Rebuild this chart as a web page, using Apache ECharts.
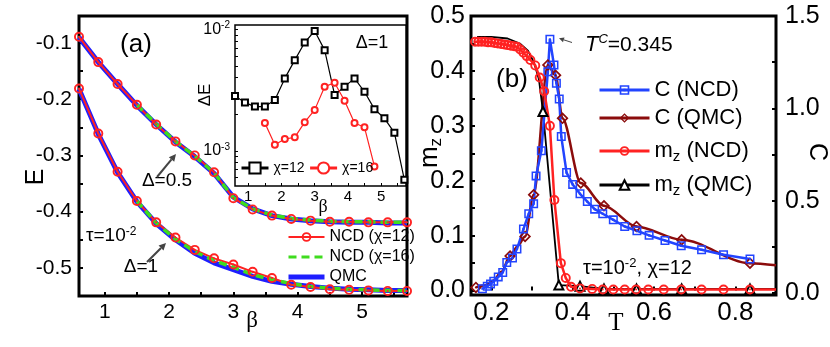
<!DOCTYPE html>
<html>
<head>
<meta charset="utf-8">
<script src="https://cdn.jsdelivr.net/npm/echarts@6/dist/echarts.min.js"></script>
<style>
html,body{margin:0;padding:0;background:#fff;}
#main{width:830px;height:347px;}
</style>
</head>
<body>
<div id="main"></div>
<script>
// ---- panel (a): E vs beta ----
var betaA = [0.6, 0.9, 1.2, 1.5, 1.8, 2.1, 2.4, 2.7, 3.0, 3.3, 3.6, 3.9, 4.2, 4.5, 4.8, 5.1, 5.4, 5.7];
var betaA16 = betaA.slice(3); // chi=16 curves start at beta=1.5
// delta = 0.5
var eHalfNcd12 = [-0.089, -0.134, -0.173, -0.210, -0.245, -0.275, -0.300, -0.330, -0.376, -0.396, -0.407, -0.413, -0.416, -0.418, -0.418, -0.419, -0.419, -0.419];
var eHalfNcd16 = [-0.210, -0.244, -0.275, -0.301, -0.331, -0.375, -0.395, -0.406, -0.412, -0.415, -0.417, -0.418, -0.418, -0.419, -0.419];
var eHalfQmc   = [-0.090, -0.134, -0.173, -0.211, -0.245, -0.276, -0.302, -0.332, -0.374, -0.395, -0.407, -0.413, -0.416, -0.418, -0.419, -0.419, -0.420, -0.420];
// delta = 1
var eOneNcd12 = [-0.181, -0.261, -0.329, -0.381, -0.419, -0.446, -0.468, -0.483, -0.494, -0.507, -0.518, -0.530, -0.534, -0.538, -0.539, -0.540, -0.541, -0.541];
var eOneNcd16 = [-0.381, -0.420, -0.449, -0.471, -0.487, -0.499, -0.512, -0.521, -0.528, -0.533, -0.536, -0.538, -0.539, -0.540, -0.540];
var eOneQmc   = [-0.182, -0.262, -0.330, -0.382, -0.421, -0.450, -0.474, -0.491, -0.503, -0.515, -0.524, -0.529, -0.533, -0.536, -0.538, -0.539, -0.540, -0.540];

// inset: deltaE (log scale)
var betaIn16 = betaA.slice(3, 15);
var dE12 = [2.82e-3, 2.49e-3, 2.31e-3, 2.31e-3, 2.62e-3, 3.94e-3, 5.57e-3, 7.78e-3, 9.68e-3, 6.73e-3, 2.88e-3, 3.37e-3, 3.94e-3, 3.06e-3, 2.20e-3, 1.85e-3, 1.41e-3, 5.78e-4];
var dE16 = [1.69e-3, 1.12e-3, 1.25e-3, 1.29e-3, 1.72e-3, 2.17e-3, 3.37e-3, 3.63e-3, 2.58e-3, 1.69e-3, 1.56e-3, 7.43e-4];

// ---- panel (b): C and m_z vs T ----
var tCNcd = [0.178, 0.190, 0.198, 0.206, 0.217, 0.228, 0.238, 0.252, 0.263, 0.279, 0.292, 0.304, 0.310, 0.323, 0.339, 0.344, 0.354, 0.360, 0.367, 0.372, 0.385, 0.400, 0.418, 0.436, 0.454, 0.474, 0.500, 0.528, 0.558, 0.588, 0.627, 0.667, 0.717, 0.771, 0.836];
var cNcd  = [0.023, 0.036, 0.049, 0.063, 0.087, 0.111, 0.165, 0.189, 0.238, 0.346, 0.429, 0.483, 0.634, 0.770, 1.198, 1.374, 1.235, 1.136, 1.051, 0.847, 0.652, 0.588, 0.537, 0.495, 0.454, 0.429, 0.396, 0.360, 0.337, 0.312, 0.284, 0.256, 0.234, 0.207, 0.184];
var tCQmc = [0.162, 0.185, 0.205, 0.225, 0.246, 0.265, 0.283, 0.304, 0.339, 0.358, 0.375, 0.420, 0.477, 0.557, 0.668, 0.836, 0.900];
var cQmc  = [0.030, 0.042, 0.068, 0.115, 0.200, 0.255, 0.306, 0.532, 1.235, 1.179, 0.946, 0.595, 0.472, 0.360, 0.288, 0.161, 0.150];
var cQmcMark = [1, 0, 0, 0, 1, 0, 1, 1, 1, 1, 1, 1, 1, 1, 1, 1, 0];
var tMNcd = [0.160, 0.168, 0.176, 0.184, 0.192, 0.200, 0.208, 0.216, 0.224, 0.232, 0.240, 0.248, 0.256, 0.263, 0.271, 0.279, 0.287, 0.296, 0.308, 0.319, 0.330, 0.344, 0.355, 0.371, 0.383, 0.396, 0.418, 0.448, 0.474, 0.500, 0.528, 0.556, 0.586, 0.624, 0.667, 0.717, 0.771, 0.836, 0.900];
var mNcd  = [0.453, 0.453, 0.453, 0.453, 0.452, 0.452, 0.451, 0.450, 0.449, 0.448, 0.447, 0.446, 0.445, 0.444, 0.439, 0.433, 0.427, 0.420, 0.410, 0.388, 0.363, 0.300, 0.165, 0.050, 0.023, 0.007, 0.004, 0.003, 0.002, 0.002, 0.002, 0.002, 0.002, 0.002, 0.002, 0.002, 0.002, 0.002, 0.002];
var mNcdMark = tMNcd.map(function (t) { return t < 0.9 ? 1 : 0; });
var tMQmc = [0.165, 0.200, 0.240, 0.270, 0.290, 0.305, 0.317, 0.327, 0.366, 0.418, 0.477, 0.557, 0.668, 0.836, 0.900];
var mQmc  = [0.462, 0.462, 0.459, 0.450, 0.437, 0.415, 0.385, 0.326, 0.010, 0.008, 0.003, 0.003, 0.003, 0.003, 0.003];
var mQmcMark = [0, 0, 0, 0, 0, 0, 0, 1, 1, 1, 1, 1, 1, 1, 0];

// tick / label positions
var aXLabels = [1, 2, 3, 4, 5];
var aXTicks = [1, 1.5, 2, 2.5, 3, 3.5, 4, 4.5, 5, 5.5];
var aYLabels = [-0.5, -0.4, -0.3, -0.2, -0.1];
var aYTicks = [-0.5, -0.45, -0.4, -0.35, -0.3, -0.25, -0.2, -0.15, -0.1];
var inYLabels = [-3, -2];
var inYTicks = [6e-4, 7e-4, 8e-4, 9e-4, 1e-3, 2e-3, 3e-3, 4e-3, 5e-3, 6e-3, 7e-3, 8e-3, 9e-3, 1e-2].map(Math.log10);
var bXLabels = [0.2, 0.4, 0.6, 0.8];
var bXTicks = [0.2, 0.3, 0.4, 0.5, 0.6, 0.7, 0.8];
var bYLabels = [0, 0.1, 0.2, 0.3, 0.4, 0.5];
var bYTicks = [0, 0.05, 0.1, 0.15, 0.2, 0.25, 0.3, 0.35, 0.4, 0.45, 0.5];
var bCLabels = [0, 0.5, 1.0, 1.5];
var bCTicks = [0, 0.25, 0.5, 0.75, 1.0, 1.25, 1.5];

var FONT = 'Liberation Sans, Arial, sans-serif';
var SERIF = 'Liberation Serif, Times New Roman, serif';
var RED = '#ff2222', BLUE = '#1e1eff', GREEN = '#3fdc1e', BROWN = '#8b0c0c', BBLUE = '#2244ff';

// symbols with open centre and a dot
var ringCircle = 'path://M5,0A5,5,0,1,1,5,10A5,5,0,1,1,5,0ZM5,1.9A3.1,3.1,0,1,0,5,8.1A3.1,3.1,0,1,0,5,1.9ZM5,4A1,1,0,1,1,5,6A1,1,0,1,1,5,4Z';
var ringRect = 'path://M0,0H10V10H0ZM1.7,1.7V8.3H8.3V1.7ZM3.8,3.8H6.2V6.2H3.8Z';
var ringDiamond = 'path://M5,0L10,5L5,10L0,5ZM5,2L2,5L5,8L8,5ZM5,4L6,5L5,6L4,5Z';

function pts(xs, ys, mark) {
	return xs.map(function (x, i) {
		if (mark && !mark[i]) return { value: [x, ys[i]], symbol: 'none' };
		return [x, ys[i]];
	});
}

function valAxis(o) {
	return {
		type: 'value',
		gridIndex: o.grid,
		min: o.min,
		max: o.max,
		position: o.position,
		splitLine: { show: false },
		axisLine: { show: false },
		axisTick: { show: true, inside: true, length: o.tickLen || 4, customValues: o.ticks, lineStyle: { color: '#000', width: o.tickW || 2 } },
		axisLabel: {
			customValues: o.labels,
			margin: o.margin,
			fontSize: o.fontSize,
			fontFamily: FONT,
			color: '#000',
			formatter: o.formatter,
			rich: o.rich
		},
		z: o.z
	};
}

var chart = echarts.init(document.getElementById('main'));

var sup = function (size) { return { fontSize: size, fontFamily: FONT, color: '#000', verticalAlign: 'top', lineHeight: size }; };

var option = {
	animation: false,
	backgroundColor: '#fff',
	grid: [
		{ left: 79, top: 16, width: 328, height: 280, show: true, borderColor: '#000', borderWidth: 3, backgroundColor: 'transparent', z: 0 },
		{ left: 235, top: 25, width: 171, height: 161, show: true, borderColor: '#000', borderWidth: 1.5, backgroundColor: '#fff', z: 5 },
		{ left: 471, top: 16, width: 305, height: 279, show: true, borderColor: '#000', borderWidth: 3, backgroundColor: 'transparent', z: 0 }
	],
	xAxis: [
		valAxis({ grid: 0, min: 0.6, max: 5.7, labels: aXLabels, ticks: aXTicks, margin: 6, fontSize: 21 }),
		valAxis({ grid: 1, min: 0.6, max: 5.75, labels: aXLabels, ticks: aXTicks, margin: 3, fontSize: 15, tickLen: 3, tickW: 1, z: 7 }),
		valAxis({ grid: 2, min: 0.15, max: 0.9, labels: bXLabels, ticks: bXTicks, margin: 5, fontSize: 26,
			formatter: function (v) { return v.toFixed(1); } })
	],
	yAxis: [
		valAxis({ grid: 0, min: -0.55, max: -0.052, labels: aYLabels, ticks: aYTicks, margin: 7, fontSize: 21,
			formatter: function (v) { return v.toFixed(1); } }),
		valAxis({ grid: 1, min: -3.29, max: -1.965, labels: inYLabels, ticks: inYTicks, margin: 5, fontSize: 16, tickLen: 3, tickW: 1, z: 7,
			formatter: function (v) { return '{b|10}{s|' + v + '}'; },
			rich: { b: { fontSize: 16, fontFamily: FONT, color: '#000', lineHeight: 18 }, s: sup(10) } }),
		valAxis({ grid: 2, min: -0.008, max: 0.5, labels: bYLabels, ticks: bYTicks, margin: 6, fontSize: 25,
			formatter: function (v) { return v.toFixed(1); } }),
		valAxis({ grid: 2, min: -0.011, max: 1.5, position: 'right', labels: bCLabels, ticks: bCTicks, margin: 9, fontSize: 25,
			formatter: function (v) { return v.toFixed(1); } })
	],
	legend: [
		{
			left: 286, top: 229, orient: 'vertical', itemWidth: 36, itemHeight: 12, itemGap: 4, padding: 0,
			textStyle: { fontSize: 16, fontFamily: FONT, color: '#000' },
			data: [
				{ name: 'NCD (χ=12)', lineStyle: { width: 2 } },
				{ name: 'NCD (χ=16)', lineStyle: { width: 3 }, itemStyle: { color: 'rgba(0,0,0,0)', borderWidth: 0 } },
				{ name: 'QMC', lineStyle: { width: 5 }, itemStyle: { color: 'rgba(0,0,0,0)', borderWidth: 0 } }
			]
		},
		{
			left: 240, top: 161, orient: 'horizontal', itemWidth: 27, itemHeight: 14, itemGap: 4, padding: 0, z: 8,
			textStyle: { fontSize: 14, fontFamily: FONT, color: '#000' },
			data: [{ name: 'χ=12', lineStyle: { width: 3 } }, { name: 'χ=16', lineStyle: { width: 3 } }]
		},
		bLegend('C (NCD)', 83),
		bLegend('C (QMC)', 111),
		bLegend('mz (NCD)', 144),
		bLegend('mz (QMC)', 178)
	],
	series: [
		// (a) QMC
		line('QMC', 0, pts(betaA, eHalfQmc), BLUE, 5, 'none'),
		line('QMC', 0, pts(betaA, eOneQmc), BLUE, 5, 'none'),
		// (a) NCD chi=12
		line('NCD (χ=12)', 0, pts(betaA, eHalfNcd12), RED, 2, ringCircle, 10),
		line('NCD (χ=12)', 0, pts(betaA, eOneNcd12), RED, 2, ringCircle, 10),
		// (a) NCD chi=16
		dashed(pts(betaA16, eHalfNcd16)),
		dashed(pts(betaA16, eOneNcd16)),
		// inset
		{
			name: 'χ=12', type: 'line', xAxisIndex: 1, yAxisIndex: 1, z: 7,
			data: pts(betaA, dE12.map(Math.log10)),
			symbol: 'emptyRect', symbolSize: 6,
			lineStyle: { color: '#000', width: 1.2 },
			itemStyle: { color: '#000', borderWidth: 1 }
		},
		{
			name: 'χ=16', type: 'line', xAxisIndex: 1, yAxisIndex: 1, z: 7,
			data: pts(betaIn16, dE16.map(Math.log10)),
			symbol: 'emptyCircle', symbolSize: 6,
			lineStyle: { color: RED, width: 1.2 },
			itemStyle: { color: RED, borderWidth: 1 }
		},
		// (b)
		{
			name: 'C (QMC)', type: 'line', xAxisIndex: 2, yAxisIndex: 3,
			data: pts(tCQmc, cQmc, cQmcMark), smooth: 0.3, smoothMonotone: 'x',
			symbol: ringDiamond, symbolSize: 12,
			lineStyle: { color: BROWN, width: 2.5 }, itemStyle: { color: BROWN }
		},
		{
			name: 'mz (QMC)', type: 'line', xAxisIndex: 2, yAxisIndex: 2,
			data: pts(tMQmc, mQmc, mQmcMark),
			symbol: 'emptyTriangle', symbolSize: 9,
			lineStyle: { color: '#000', width: 1.8 }, itemStyle: { color: '#000', borderWidth: 1.3 }
		},
		{
			name: 'C (NCD)', type: 'line', xAxisIndex: 2, yAxisIndex: 3,
			data: pts(tCNcd, cNcd),
			symbol: ringRect, symbolSize: 9,
			lineStyle: { color: BBLUE, width: 2.5 }, itemStyle: { color: BBLUE }
		},
		{
			name: 'mz (NCD)', type: 'line', xAxisIndex: 2, yAxisIndex: 2,
			data: pts(tMNcd, mNcd, mNcdMark),
			symbol: ringCircle, symbolSize: 10,
			lineStyle: { color: RED, width: 2.5 }, itemStyle: { color: RED }
		}
	],
	graphic: annotations()
};

function line(name, axis, data, color, width, symbol, size) {
	return {
		name: name, type: 'line', xAxisIndex: axis, yAxisIndex: axis,
		data: data, symbol: symbol, symbolSize: size || 4,
		lineStyle: { color: color, width: width },
		itemStyle: { color: color }
	};
}

function dashed(data) {
	return {
		name: 'NCD (χ=16)', type: 'line', xAxisIndex: 0, yAxisIndex: 0,
		data: data, symbol: 'none',
		lineStyle: { color: GREEN, width: 3.5, type: [8, 5] },
		itemStyle: { color: GREEN }
	};
}

function bLegend(name, cy) {
	return {
		left: 598, top: cy - 6, itemWidth: 50, itemHeight: 12, padding: 0,
		data: [{ name: name, lineStyle: { width: 3 } }],
		textStyle: {
			fontSize: 22, fontFamily: FONT, color: '#000', lineHeight: 26,
			rich: {
				m: { fontSize: 22, fontFamily: FONT, color: '#000', lineHeight: 26 },
				z: { fontSize: 15, fontFamily: FONT, color: '#000', lineHeight: 8, verticalAlign: 'bottom' },
				t: { fontSize: 22, fontFamily: FONT, color: '#000', lineHeight: 26 }
			}
		},
		formatter: function (n) {
			if (n.indexOf('mz') === 0) return '{m|m}{z|z}{t|' + n.slice(2) + '}';
			return n;
		}
	};
}

function txt(x, y, text, size, extra) {
	var st = { text: text, x: x, y: y, fontSize: size, fontFamily: FONT, fill: '#000', align: 'center', verticalAlign: 'middle' };
	for (var k in extra) st[k] = extra[k];
	return { type: 'text', z: 20, style: st };
}

// rotated text: position moved to the element so it rotates about its centre
function rtxt(x, y, text, size, rot, extra) {
	var t = txt(0, 0, text, size, extra);
	t.x = x; t.y = y; t.rotation = rot;
	return t;
}

function arrow(x1, y1, x2, y2, head, half, width) {
	var dx = x2 - x1, dy = y2 - y1, len = Math.sqrt(dx * dx + dy * dy);
	var ux = dx / len, uy = dy / len;
	var bx = x2 - ux * head, by = y2 - uy * head;
	return [
		{ type: 'line', z: 20, shape: { x1: x1, y1: y1, x2: bx, y2: by }, style: { stroke: '#444', lineWidth: width } },
		{ type: 'polygon', z: 20, shape: { points: [[x2, y2], [bx - uy * half, by + ux * half], [bx + uy * half, by - ux * half]] }, style: { fill: '#444' } }
	];
}

function annotations() {
	var g = [];
	var richSup = function (main, s) {
		return {
			n: { fontSize: main, fontFamily: FONT, color: '#000', lineHeight: main + 2 },
			s: sup(s)
		};
	};
	// panel (a)
	g.push(txt(136, 45, '(a)', 26));
	g.push(txt(167, 181, 'Δ=0.5', 19));
	g.push(txt(141, 267, 'Δ=1', 19));
	g.push(txt(86, 236, '{n|τ=10}{s|-2}', 19, { align: 'left', rich: richSup(19, 12) }));
	g = g.concat(arrow(157, 177, 176, 154, 7, 3.5, 2));
	g = g.concat(arrow(147, 262, 166, 243, 7, 3.5, 2));
	g.push(rtxt(36, 177, 'E', 25, Math.PI / 2));
	g.push(txt(252, 321, 'β', 23, { fontFamily: SERIF }));
	// inset
	g.push(txt(372, 43, 'Δ=1', 18));
	g.push(txt(323, 207, 'β', 18, { fontFamily: SERIF }));
	g.push(rtxt(205, 95, 'ΔE', 17, Math.PI / 2));
	// panel (b)
	g.push(txt(512, 80, '(b)', 26));
	g.push(txt(585, 45, '{t|T}{s|C}{n|=0.345}', 21, {
		align: 'left',
		rich: {
			t: { fontSize: 22, fontFamily: FONT, fontStyle: 'italic', color: '#000', lineHeight: 24 },
			s: { fontSize: 13, fontFamily: FONT, fontStyle: 'italic', color: '#000', lineHeight: 13, verticalAlign: 'top' },
			n: { fontSize: 21, fontFamily: FONT, color: '#000', lineHeight: 24 }
		}
	}));
	g = g.concat(arrow(572, 42.5, 559, 38.3, 5, 2.5, 1));
	g.push(txt(583, 268, '{n|τ=10}{s|-2}{n|, χ=12}', 20, { align: 'left', rich: richSup(20, 13) }));
	g.push(rtxt(430, 153, '{m|m}{z|z}', 26, Math.PI / 2, {
		rich: {
			m: { fontSize: 26, fontFamily: FONT, color: '#000', lineHeight: 30 },
			z: { fontSize: 17, fontFamily: FONT, color: '#000', lineHeight: 10, verticalAlign: 'bottom' }
		}
	}));
	g.push(rtxt(817, 152, 'C', 25, -Math.PI / 2));
	g.push(txt(616, 323, 'T', 25, { fontFamily: SERIF }));
	return g;
}

chart.setOption(option);
</script>
</body>
</html>
